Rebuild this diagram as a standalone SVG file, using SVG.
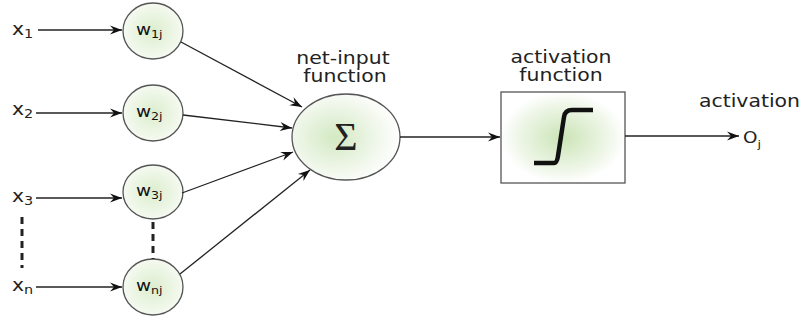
<svg xmlns="http://www.w3.org/2000/svg" width="803" height="322" viewBox="0 0 803 322">
<defs>
<radialGradient id="gW" cx="50%" cy="50%" r="50%">
<stop offset="0" stop-color="#dcedcd"/>
<stop offset="1" stop-color="#f5faf1"/>
</radialGradient>
<radialGradient id="gS" cx="40%" cy="50%" r="60%">
<stop offset="0" stop-color="#d3e9c2"/>
<stop offset="0.6" stop-color="#eef6e8"/>
<stop offset="1" stop-color="#ffffff"/>
</radialGradient>
<radialGradient id="gB" cx="50%" cy="50%" r="50%">
<stop offset="0" stop-color="#cbe4b6"/>
<stop offset="0.75" stop-color="#f0f7ea"/>
<stop offset="1" stop-color="#ffffff"/>
</radialGradient>
<marker id="arr" viewBox="-13 -6 14 12" refX="0" refY="0" markerWidth="14" markerHeight="12" markerUnits="userSpaceOnUse" orient="auto">
<path d="M0,0 L-12,-4.5 L-8,0 L-12,4.5 Z" fill="#111"/>
</marker>
</defs>
<style>
.t{font-family:"DejaVu Sans","Liberation Sans",sans-serif;font-size:17px;fill:#222}
.w{font-family:"DejaVu Sans","Liberation Sans",sans-serif;font-size:16px;fill:#111}
.sub{font-size:11px}
.node{stroke:#555;stroke-width:1.3}
.con{stroke:#222;stroke-width:1.3;fill:none;marker-end:url(#arr)}
.dash{stroke:#222;stroke-width:3;stroke-dasharray:7 5;fill:none}
</style>
<rect width="803" height="322" fill="#fff"/>

<g id="inputs">
<text class="t" transform="translate(12,35) scale(1.2,1)">x<tspan font-size="12" dy="3">1</tspan></text>
<text class="t" transform="translate(12,115) scale(1.2,1)">x<tspan font-size="12" dy="3">2</tspan></text>
<text class="t" transform="translate(12,202) scale(1.2,1)">x<tspan font-size="12" dy="3">3</tspan></text>
<text class="t" transform="translate(12,291) scale(1.2,1)">x<tspan font-size="12" dy="3">n</tspan></text>
</g>

<g id="w1j">
<ellipse class="node" cx="153" cy="31" rx="30" ry="28" fill="url(#gW)"/>
<text class="w" transform="translate(136,35) scale(1.15,1)">w<tspan class="sub" dy="3">1j</tspan></text>
</g>
<g id="w2j">
<ellipse class="node" cx="153" cy="113" rx="30" ry="28" fill="url(#gW)"/>
<text class="w" transform="translate(136,117) scale(1.15,1)">w<tspan class="sub" dy="3">2j</tspan></text>
</g>
<g id="w3j">
<ellipse class="node" cx="153" cy="192" rx="30" ry="27" fill="url(#gW)"/>
<text class="w" transform="translate(136,196) scale(1.15,1)">w<tspan class="sub" dy="3">3j</tspan></text>
</g>
<g id="wnj">
<ellipse class="node" cx="153" cy="287" rx="30" ry="28" fill="url(#gW)"/>
<text class="w" transform="translate(136,291) scale(1.15,1)">w<tspan class="sub" dy="3">nj</tspan></text>
</g>

<g id="netinput">
<text class="t" text-anchor="middle" transform="translate(343,64) scale(1.2,1)">net-input</text>
<text class="t" text-anchor="middle" transform="translate(345,82) scale(1.2,1)">function</text>
<ellipse class="node" cx="346" cy="137" rx="54" ry="43" fill="url(#gS)"/>
<text x="346" y="150" text-anchor="middle" font-family="Liberation Serif, serif" font-size="40" fill="#222">Σ</text>
</g>

<g id="activationfunction">
<text class="t" text-anchor="middle" transform="translate(561,63) scale(1.2,1)">activation</text>
<text class="t" text-anchor="middle" transform="translate(561,81) scale(1.2,1)">function</text>
<rect class="node" x="501" y="92" width="124" height="91" fill="url(#gB)"/>
<path d="M534,163 L554,163 Q557,163 558,156 L564,117 Q565,110 572,110 L593,110" fill="none" stroke="#111" stroke-width="4.5"/>
</g>

<g id="output">
<text class="t" transform="translate(699,107) scale(1.2,1)">activation</text>
<text class="t" transform="translate(743,143) scale(1.15,1)" style="font-size:16px">O<tspan class="sub" dy="5">j</tspan></text>
</g>

<g id="connectors">
<line class="con" x1="38" y1="30" x2="122" y2="30"/>
<line class="con" x1="36" y1="113" x2="122" y2="113"/>
<line class="con" x1="36" y1="198" x2="122" y2="198"/>
<line class="con" x1="36" y1="287" x2="122" y2="287"/>
<line class="con" x1="181" y1="42" x2="302" y2="107"/>
<line class="con" x1="183" y1="115" x2="292" y2="128"/>
<line class="con" x1="182" y1="193" x2="293" y2="152"/>
<line class="con" x1="180" y1="274" x2="310" y2="170"/>
<line class="con" x1="400" y1="137" x2="500" y2="137"/>
<line class="con" x1="625" y1="136" x2="739" y2="136"/>
<line class="dash" x1="22" y1="217" x2="22" y2="268"/>
<line class="dash" x1="153" y1="222" x2="153" y2="259"/>
</g>
</svg>
